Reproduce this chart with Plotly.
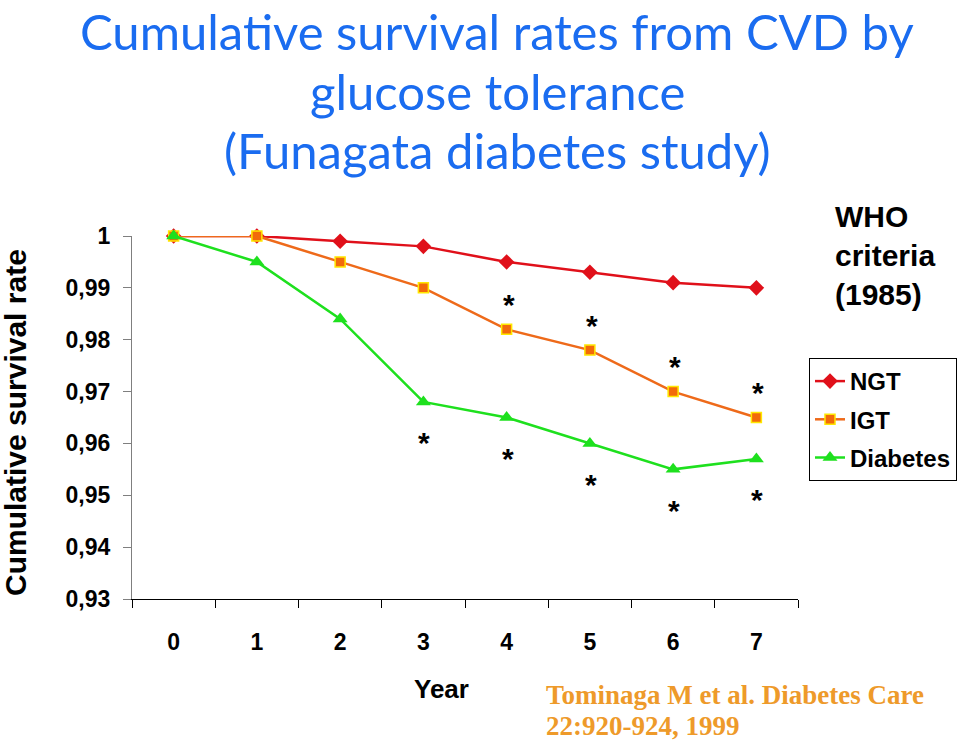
import plotly.graph_objects as go

years = [0, 1, 2, 3, 4, 5, 6, 7]
ngt = [1.000, 1.000, 0.999, 0.998, 0.995, 0.993, 0.991, 0.990]
igt = [1.000, 1.000, 0.995, 0.990, 0.982, 0.978, 0.970, 0.965]
diabetes = [1.000, 0.995, 0.984, 0.968, 0.965, 0.960, 0.955, 0.957]
igt_significant_years = [4, 5, 6, 7]
dm_significant_years = [3, 4, 5, 6, 7]
y_tick_values = [0.93, 0.94, 0.95, 0.96, 0.97, 0.98, 0.99, 1.00]
y_tick_labels = ["0,93", "0,94", "0,95", "0,96", "0,97", "0,98", "0,99", "1"]
x_tick_labels = ["0", "1", "2", "3", "4", "5", "6", "7"]
title_lines = ["Cumulative survival rates from CVD by", "glucose tolerance",
               "(Funagata diabetes study)"]
citation_lines = ["Tominaga M et al. Diabetes Care", "22:920-924, 1999"]

AX_FONT = "Liberation Sans, Arial, sans-serif"

# plot area in page pixels: x 132..798, y 236..599
PX_L, PX_R, PX_T, PX_B = 132, 798, 236, 599


def px(xp):
    return (xp - PX_L) / (PX_R - PX_L)


def py(yp):
    return (PX_B - yp) / (PX_B - PX_T)


fig = go.Figure()
fig.add_trace(go.Scatter(
    x=x_tick_labels, y=ngt, name="NGT", mode="lines+markers",
    line=dict(color="#E0101A", width=2.5),
    marker=dict(symbol="diamond", size=12, color="#E0101A"),
    cliponaxis=False, legendgroup="a"))
fig.add_trace(go.Scatter(
    x=x_tick_labels, y=igt, name="IGT", mode="lines+markers",
    line=dict(color="#EE6A1A", width=2.5),
    marker=dict(symbol="square", size=10, color="#F26A0A",
                line=dict(color="#FFE800", width=1.5)),
    cliponaxis=False, legendgroup="b"))
fig.add_trace(go.Scatter(
    x=x_tick_labels, y=diabetes, name="Diabetes", mode="lines+markers",
    line=dict(color="#1EE01E", width=2.5),
    marker=dict(symbol="triangle-up", size=13, color="#1EE01E"),
    cliponaxis=False, legendgroup="c"))

annotations = []
star_font = dict(family=AX_FONT, size=30, color="black", weight="bold")
for yr in igt_significant_years:
    i = years.index(yr)
    annotations.append(dict(x=x_tick_labels[i], y=igt[i], xref="x", yref="y",
                            text="*", showarrow=False, yshift=25, xshift=2,
                            font=star_font))
for yr in dm_significant_years:
    i = years.index(yr)
    annotations.append(dict(x=x_tick_labels[i], y=diabetes[i], xref="x", yref="y",
                            text="*", showarrow=False, yshift=-41, xshift=1,
                            font=star_font))

for line, ypix in zip(title_lines, [31, 91, 150]):
    annotations.append(dict(text=line, xref="paper", yref="paper", x=px(497), y=py(ypix),
                            xanchor="center", yanchor="middle", showarrow=False,
                            font=dict(family="Lato, sans-serif", size=49, color="#1A6CF0")))

for line, ypix in zip(citation_lines, [695, 726]):
    annotations.append(dict(text=line, xref="paper", yref="paper", x=px(544), y=py(ypix),
                            xanchor="left", yanchor="middle", showarrow=False,
                            font=dict(family="Liberation Serif, Times New Roman, serif",
                                      size=27, color="#EE9A2A", weight="bold")))

annotations += [
    dict(text="Cumulative survival rate", xref="paper", yref="paper",
         x=px(15), y=py(423), xanchor="center", yanchor="middle", textangle=-90,
         showarrow=False, font=dict(family=AX_FONT, size=30, color="black", weight="bold")),
    dict(text="Year", xref="paper", yref="paper", x=px(441), y=py(689),
         xanchor="center", yanchor="middle", showarrow=False,
         font=dict(family=AX_FONT, size=26, color="black", weight="bold")),
    dict(text="WHO<br>criteria<br>(1985)", xref="paper", yref="paper",
         x=px(833), y=py(198), xanchor="left", yanchor="top", align="left",
         showarrow=False, font=dict(family=AX_FONT, size=30, color="black", weight="bold")),
]

fig.update_layout(
    width=960, height=745,
    margin=dict(l=PX_L, r=960 - PX_R, t=PX_T, b=745 - PX_B, autoexpand=False),
    paper_bgcolor="white", plot_bgcolor="white",
    showlegend=True,
    legend=dict(x=px(809), xanchor="left", y=py(358), yanchor="top",
                bordercolor="black", borderwidth=1, bgcolor="white",
                traceorder="grouped", tracegroupgap=4,
                font=dict(family=AX_FONT, size=24, color="black", weight="bold")),
    annotations=annotations,
)
fig.update_xaxes(type="category", range=[-0.5, 7.5], showline=True,
                 linecolor="black", linewidth=1.2, ticks="outside", ticklen=8,
                 tickcolor="black", tickson="boundaries", showgrid=False,
                 zeroline=False, ticklabelstandoff=22, automargin=False,
                 tickfont=dict(family=AX_FONT, size=23, color="black", weight="bold"))
fig.update_yaxes(range=[0.93, 1.0], tickvals=y_tick_values, ticktext=y_tick_labels,
                 showline=True, linecolor="#7F7F7F", linewidth=1.2,
                 ticks="outside", ticklen=8, tickcolor="#7F7F7F", showgrid=False,
                 zeroline=False, ticklabelstandoff=8, automargin=False,
                 tickfont=dict(family=AX_FONT, size=23, color="black", weight="bold"))

fig.write_html("out.html", config={"displayModeBar": False},
               post_script="document.body.style.margin='0';document.body.style.overflow='hidden';")
